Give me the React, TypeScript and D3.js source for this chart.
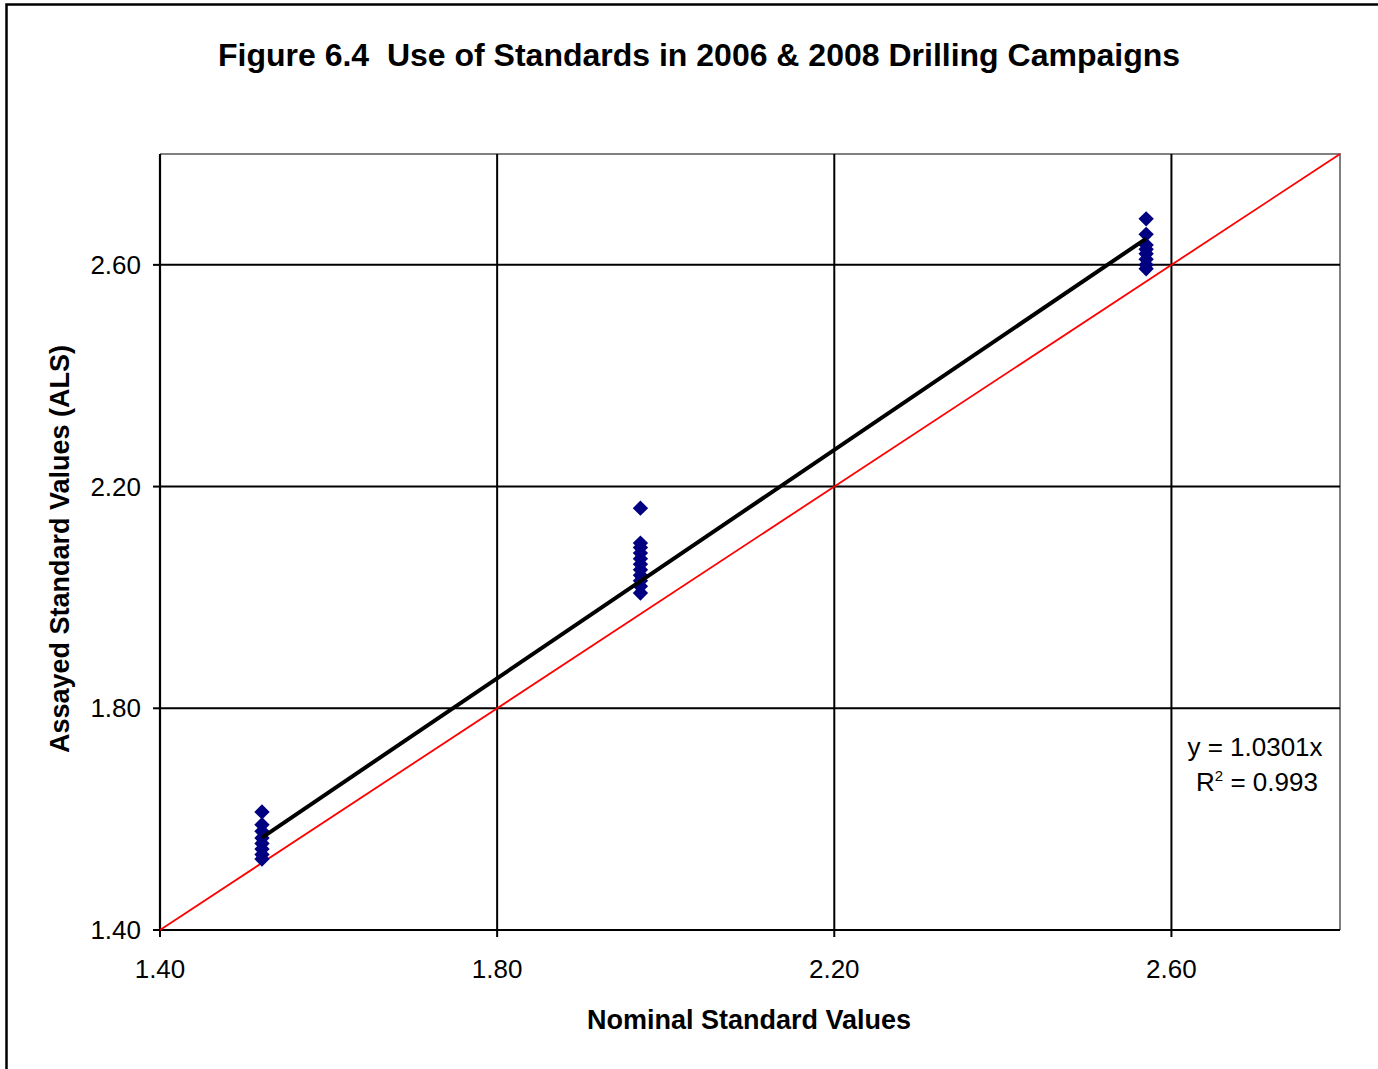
import React from "react";
import * as d3 from "d3";

// Nominal standard values (x) and the assays returned for each
const standardNominal = [1.521, 1.97, 2.57];
const assaysStd1 = [1.613, 1.59, 1.578, 1.566, 1.556, 1.546, 1.536, 1.528];
const assaysStd2 = [2.161, 2.098, 2.09, 2.08, 2.07, 2.06, 2.05, 2.04, 2.03, 2.02, 2.008];
const assaysStd3 = [2.683, 2.655, 2.636, 2.628, 2.62, 2.61, 2.6, 2.593];
const assayGroups = [assaysStd1, assaysStd2, assaysStd3];

const tickValues = [1.4, 1.8, 2.2, 2.6];
const gridValues = [1.8, 2.2, 2.6];
const trendSlope = 1.0301;
const trendR2 = 0.993;

const W = 1378;
const H = 1069;
const plot = { left: 160, right: 1340, top: 154, bottom: 930 };
const FONT = "'Liberation Sans', Arial, sans-serif";

export default function App() {
  const x = d3.scaleLinear().domain([1.4, 2.8]).range([plot.left, plot.right]);
  const y = d3.scaleLinear().domain([1.4, 2.8]).range([plot.bottom, plot.top]);

  const points = standardNominal.flatMap((nx, i) =>
    assayGroups[i].map((v) => ({ x: nx, y: v }))
  );
  // square marker turned 45° gives an even diamond
  const diamond = d3.symbol().type(d3.symbolSquare).size(118)() as string;

  const line = d3
    .line<[number, number]>()
    .x((d) => x(d[0]))
    .y((d) => y(d[1]));

  const xMin = d3.min(standardNominal) as number;
  const xMax = d3.max(standardNominal) as number;
  const trend: [number, number][] = [
    [xMin, trendSlope * xMin],
    [xMax, trendSlope * xMax],
  ];
  const oneToOne: [number, number][] = [
    [1.4, 1.4],
    [2.8, 2.8],
  ];

  return (
    <svg
      width={W}
      height={H}
      style={{ position: "absolute", left: 0, top: 0, background: "#fff" }}
      fontFamily={FONT}
    >
      <rect x={0} y={0} width={W} height={H} fill="#fff" />
      {/* outer chart frame */}
      <rect x={6.5} y={4.5} width={W + 50} height={H + 50} fill="none" stroke="#000" strokeWidth={2.5} />

      <text x={699} y={66} textAnchor="middle" fontSize={32} fontWeight="bold" fill="#000">
        Figure 6.4{"\u00a0\u00a0"}Use of Standards in 2006 &amp; 2008 Drilling Campaigns
      </text>

      {/* plot frame: grey top/right */}
      <path
        d={`M${plot.left},${plot.top}H${plot.right}V${plot.bottom}`}
        fill="none"
        stroke="#808080"
        strokeWidth={2}
      />

      {/* gridlines */}
      {gridValues.map((v) => (
        <g key={"g" + v}>
          <line x1={x(v)} x2={x(v)} y1={plot.top} y2={plot.bottom} stroke="#000" strokeWidth={2} />
          <line x1={plot.left} x2={plot.right} y1={y(v)} y2={y(v)} stroke="#000" strokeWidth={2} />
        </g>
      ))}

      {/* axes */}
      <line x1={plot.left} x2={plot.left} y1={plot.top} y2={plot.bottom} stroke="#000" strokeWidth={2.2} />
      <line x1={plot.left} x2={plot.right} y1={plot.bottom} y2={plot.bottom} stroke="#000" strokeWidth={2.2} />
      {tickValues.map((v) => (
        <g key={"t" + v}>
          <line x1={plot.left - 7} x2={plot.left} y1={y(v)} y2={y(v)} stroke="#000" strokeWidth={2} />
          <line x1={x(v)} x2={x(v)} y1={plot.bottom} y2={plot.bottom + 7} stroke="#000" strokeWidth={2} />
          <text x={141} y={y(v) + 9} textAnchor="end" fontSize={26} fill="#000">
            {v.toFixed(2)}
          </text>
          <text x={x(v)} y={978} textAnchor="middle" fontSize={26} fill="#000">
            {v.toFixed(2)}
          </text>
        </g>
      ))}

      {/* 1:1 line */}
      <path d={line(oneToOne) as string} stroke="#ff0000" strokeWidth={1.8} fill="none" />

      {/* assay points */}
      {points.map((p, i) => (
        <path
          key={i}
          d={diamond}
          transform={`translate(${x(p.x)},${y(p.y)}) rotate(45)`}
          fill="#000080"
        />
      ))}

      {/* linear trend through origin */}
      <path d={line(trend) as string} stroke="#000" strokeWidth={4} fill="none" />

      <text x={1255} y={756} textAnchor="middle" fontSize={26} fill="#000">
        y = {trendSlope.toFixed(4)}x
      </text>
      <text x={1257} y={791} textAnchor="middle" fontSize={26} fill="#000">
        R<tspan dy={-10} fontSize={15}>2</tspan>
        <tspan dy={10}> = {trendR2.toFixed(3)}</tspan>
      </text>

      <text x={749} y={1029} textAnchor="middle" fontSize={27} fontWeight="bold" fill="#000">
        Nominal Standard Values
      </text>
      <text
        transform={`translate(69,549) rotate(-90)`}
        textAnchor="middle"
        fontSize={27}
        fontWeight="bold"
        fill="#000"
      >
        Assayed Standard Values (ALS)
      </text>
    </svg>
  );
}
